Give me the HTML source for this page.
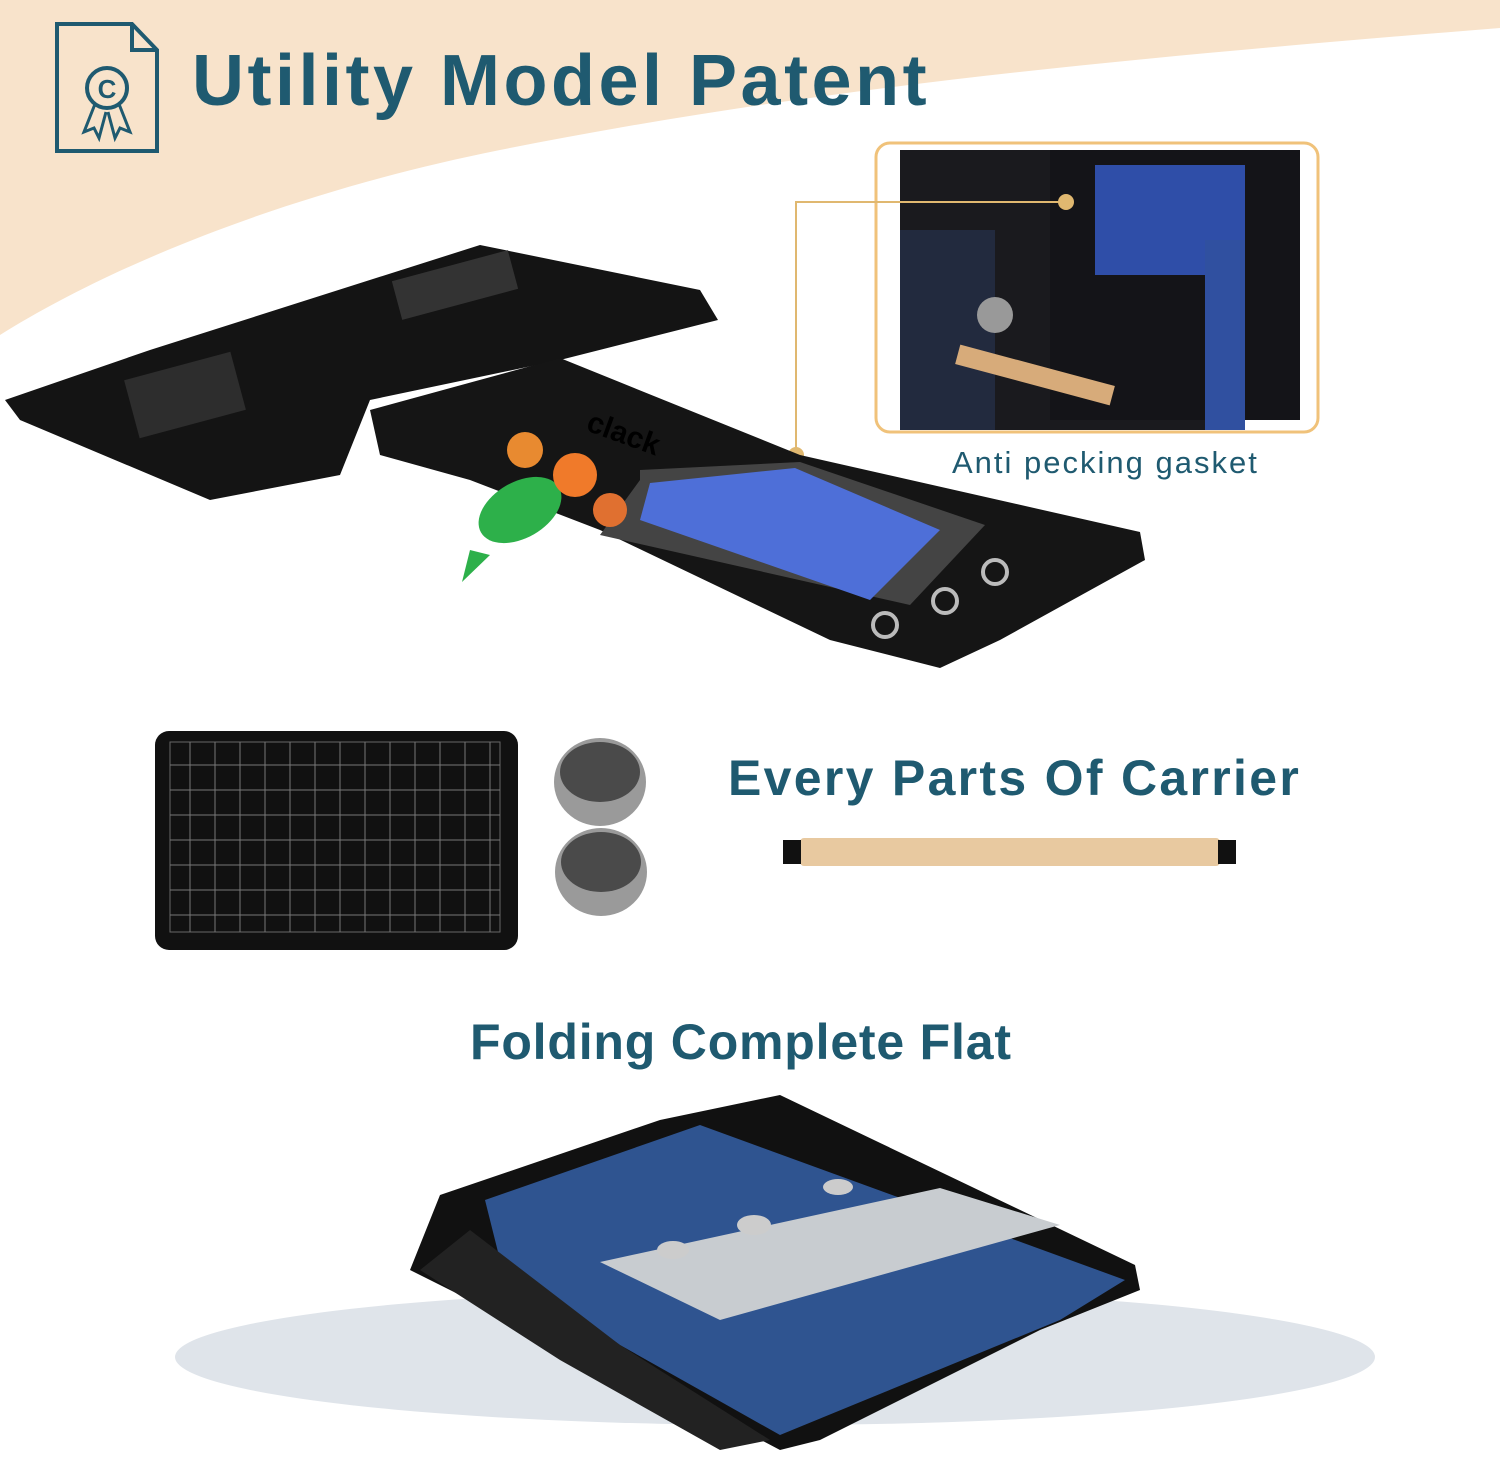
<!DOCTYPE html>
<html><head><meta charset="utf-8"><style>
html,body{margin:0;padding:0;background:#fff;}
body{width:1500px;height:1458px;position:relative;overflow:hidden;font-family:"Liberation Sans",sans-serif;}
.t{position:absolute;color:#1f5a70;font-weight:bold;white-space:nowrap;}
</style></head><body>
<svg width="1500" height="1458" style="position:absolute;left:0;top:0">
<path d="M0 0 H1500 V28 C1100 60 800 90 500 150 C300 190 120 260 0 335 Z" fill="#f8e3cb"/>
<!-- icon -->
<path d="M57 24 H132 L157 50 V151 H57 Z" fill="none" stroke="#1f5a70" stroke-width="4"/>
<path d="M132 24 V50 H157" fill="none" stroke="#1f5a70" stroke-width="4"/>
<circle cx="107" cy="88" r="20" fill="none" stroke="#1f5a70" stroke-width="4"/>
<text x="107" y="98" font-size="26" font-weight="bold" fill="#1f5a70" text-anchor="middle" font-family="Liberation Sans">C</text>
<path d="M95 104 L84 132 L94 128 L99 138 L106 112 M119 104 L130 132 L120 128 L115 138 L108 112" fill="none" stroke="#1f5a70" stroke-width="3"/>
<!-- inset -->
<rect x="876" y="143" width="442" height="289" rx="14" fill="#fff" stroke="#f0c27a" stroke-width="3"/>
<rect x="900" y="150" width="305" height="280" fill="#1a1a1e"/>
<rect x="1050" y="150" width="250" height="270" fill="#141418"/>
<rect x="1095" y="165" width="150" height="110" fill="#2f4ea8"/>
<rect x="900" y="230" width="95" height="200" fill="#222a3e"/>
<rect x="1205" y="240" width="40" height="190" fill="#3050a0"/>
<rect x="955" y="365" width="160" height="20" fill="#d7ab7a" transform="rotate(15 1035 375)"/>
<circle cx="995" cy="315" r="18" fill="#999"/>
<line x1="795" y1="202" x2="1066" y2="202" stroke="#e0b870" stroke-width="2"/>
<line x1="796" y1="202" x2="796" y2="455" stroke="#e0b870" stroke-width="2"/>
<circle cx="1066" cy="202" r="8" fill="#e0b870"/>
<circle cx="796" cy="455" r="8" fill="#e0b870"/>
<!-- flat carrier -->
<path d="M150 350 L480 245 L700 290 L718 320 L560 360 L370 400 L340 475 L210 500 L20 420 L5 400 Z" fill="#141414"/>
<path d="M370 410 L560 358 L800 455 L1140 532 L1145 560 L1000 640 L940 668 L830 640 L600 530 L470 480 L380 455 Z" fill="#151515"/>
<path d="M640 480 L640 470 L800 462 L985 525 L910 605 L600 535 Z" fill="#444"/>
<path d="M650 483 L795 468 L940 530 L870 600 L640 520 Z" fill="#4e6fd8"/>
<rect x="395" y="265" width="120" height="40" fill="#333" transform="rotate(-15 455 285)"/>
<rect x="130" y="365" width="110" height="60" fill="#2d2d2d" transform="rotate(-15 185 395)"/>
<circle cx="995" cy="572" r="12" fill="none" stroke="#bbb" stroke-width="4"/>
<circle cx="945" cy="601" r="12" fill="none" stroke="#bbb" stroke-width="4"/>
<circle cx="885" cy="625" r="12" fill="none" stroke="#bbb" stroke-width="4"/>
<text x="585" y="430" font-size="30" font-weight="bold" fill="#000" transform="rotate(20 585 430)" font-family="Liberation Sans">clack</text>
<!-- birds -->
<ellipse cx="520" cy="510" rx="45" ry="28" fill="#2db04a" transform="rotate(-30 520 510)"/>
<circle cx="575" cy="475" r="22" fill="#f07a2a"/>
<circle cx="525" cy="450" r="18" fill="#e88a30"/>
<circle cx="610" cy="510" r="17" fill="#e07030"/>
<path d="M470 550 L462 582 L490 555 Z" fill="#2db04a"/>
<!-- tray -->
<rect x="155" y="731" width="363" height="219" rx="14" fill="#111"/>
<rect x="170" y="742" width="330" height="190" fill="none" stroke="#666" stroke-width="1"/>
<g stroke="#777" stroke-width="1">
<line x1="190" y1="742" x2="190" y2="932"/><line x1="215" y1="742" x2="215" y2="932"/><line x1="240" y1="742" x2="240" y2="932"/><line x1="265" y1="742" x2="265" y2="932"/><line x1="290" y1="742" x2="290" y2="932"/><line x1="315" y1="742" x2="315" y2="932"/><line x1="340" y1="742" x2="340" y2="932"/><line x1="365" y1="742" x2="365" y2="932"/><line x1="390" y1="742" x2="390" y2="932"/><line x1="415" y1="742" x2="415" y2="932"/><line x1="440" y1="742" x2="440" y2="932"/><line x1="465" y1="742" x2="465" y2="932"/><line x1="490" y1="742" x2="490" y2="932"/>
<line x1="170" y1="765" x2="500" y2="765"/><line x1="170" y1="790" x2="500" y2="790"/><line x1="170" y1="815" x2="500" y2="815"/><line x1="170" y1="840" x2="500" y2="840"/><line x1="170" y1="865" x2="500" y2="865"/><line x1="170" y1="890" x2="500" y2="890"/><line x1="170" y1="915" x2="500" y2="915"/>
</g>
<!-- cups -->
<ellipse cx="600" cy="782" rx="46" ry="44" fill="#9a9a9a"/><ellipse cx="600" cy="772" rx="40" ry="30" fill="#4a4a4a"/>
<ellipse cx="601" cy="872" rx="46" ry="44" fill="#9a9a9a"/><ellipse cx="601" cy="862" rx="40" ry="30" fill="#4a4a4a"/>
<!-- perch -->
<rect x="800" y="838" width="420" height="28" rx="4" fill="#e8c9a0"/>
<rect x="783" y="840" width="18" height="24" fill="#111"/><rect x="1218" y="840" width="18" height="24" fill="#111"/>
<!-- shadow ellipse -->
<ellipse cx="775" cy="1357" rx="600" ry="68" fill="#dfe4ea"/>
<!-- folded carrier -->
<path d="M440 1195 L660 1120 L780 1095 L1135 1265 L1140 1290 L1090 1310 L1040 1330 L820 1440 L780 1450 L600 1355 L470 1300 L410 1270 Z" fill="#111"/>
<path d="M485 1200 L700 1125 L1125 1280 L1060 1320 L780 1435 L620 1345 L500 1260 Z" fill="#2f5490"/>
<path d="M600 1262 L940 1188 L1060 1225 L720 1320 Z" fill="#c8ccd0"/>
<path d="M420 1270 L470 1230 L620 1345 L770 1440 L720 1450 L560 1360 Z" fill="#222"/>
<ellipse cx="838" cy="1187" rx="15" ry="8" fill="#ccc"/><ellipse cx="754" cy="1225" rx="17" ry="10" fill="#ccc"/><ellipse cx="673" cy="1250" rx="16" ry="9" fill="#ccc"/>
</svg>
<div class="t" style="left:192px;top:40px;font-size:72px;letter-spacing:3.5px;">Utility Model Patent</div>
<div class="t" style="left:952px;top:445px;font-size:31px;font-weight:normal;letter-spacing:2px;">Anti pecking gasket</div>
<div class="t" style="left:728px;top:749px;font-size:50px;letter-spacing:2.3px;">Every Parts Of Carrier</div>
<div class="t" style="left:470px;top:1013px;font-size:50px;letter-spacing:0.8px;">Folding Complete Flat</div>
</body></html>
